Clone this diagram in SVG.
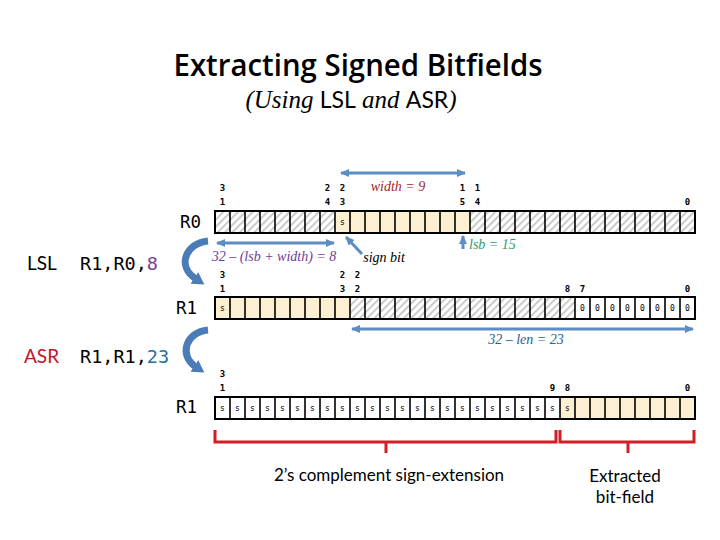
<svg xmlns="http://www.w3.org/2000/svg" width="720" height="540" viewBox="0 0 720 540">
<defs>
  <pattern id="hatch" patternUnits="userSpaceOnUse" width="5.2" height="5.2" patternTransform="rotate(45)">
    <rect width="5.2" height="5.2" fill="#ffffff"/>
    <line x1="1" y1="0" x2="1" y2="5.2" stroke="#c8c8c8" stroke-width="1.9"/>
  </pattern>
  <marker id="ah" markerUnits="userSpaceOnUse" markerWidth="10" markerHeight="10" refX="8" refY="4" orient="auto-start-reverse">
    <path d="M0,0 L9,4 L0,8 z" fill="#5b8ec4"/>
  </marker>
  <marker id="bigah" markerUnits="userSpaceOnUse" markerWidth="16" markerHeight="16" refX="2" refY="7" orient="auto">
    <path d="M0,0 L12,7 L0,14 z" fill="#4a7db8"/>
  </marker>
  <style>
    .cell{stroke:#000;stroke-width:2;fill:none}
    .div{stroke:#000;stroke-width:1.6}
    .cream{fill:#fdefd2}
    .white{fill:#ffffff}
    .bn{font-family:"DejaVu Sans Mono",monospace;font-weight:bold;font-size:9px;fill:#000;text-anchor:middle}
    .cv{font-family:"DejaVu Sans Mono",monospace;font-size:8px;fill:#000;text-anchor:middle}
    .reg{font-family:"DejaVu Sans Mono",monospace;font-size:17.5px;fill:#000}
    .ins{font-family:"DejaVu Sans Mono",monospace;font-size:18.5px;fill:#000}
    .sans{font-family:Lato,"Open Sans",sans-serif}
    .it{font-family:"Liberation Serif",serif;font-style:italic;font-size:14px;text-anchor:middle}
    .blue{stroke:#5b8ec4;stroke-width:3;fill:none}
    .curve{stroke:#4a7db8;stroke-width:7;fill:none;stroke-linecap:butt}
    .red{stroke:#d21f26;stroke-width:3;fill:none}
  </style>
</defs>
<rect width="720" height="540" fill="#ffffff"/>

<g id="title">
  <text x="358" y="76" font-family="'Open Sans',Lato,sans-serif" font-weight="600" font-size="30" text-anchor="middle" textLength="369" lengthAdjust="spacingAndGlyphs" fill="#000">Extracting Signed Bitfields</text>
  <text x="351" y="108" font-family="Liberation Serif,serif" font-style="italic" font-size="25" text-anchor="middle" fill="#000">(Using <tspan font-family="Lato,sans-serif" font-style="normal" font-size="23">LSL</tspan> and <tspan font-family="Lato,sans-serif" font-style="normal" font-size="23">ASR</tspan>)</text>
</g>

<g id="instructions">
  <text x="27" y="270" class="sans" font-size="19" fill="#000">LSL</text>
  <text x="80" y="270" class="ins">R1,R0,<tspan fill="#7a3b96">8</tspan></text>
  <text x="24" y="363" class="sans" font-size="19" fill="#c0142a">ASR</text>
  <text x="80" y="363" class="ins">R1,R1,<tspan fill="#1f6e9c">23</tspan></text>
</g>

<g id="R0">
  <text x="180" y="228" class="reg">R0</text>
  <rect x="215" y="211" width="120" height="22" fill="url(#hatch)"/>
  <rect x="335" y="211" width="135" height="22" class="cream"/>
  <rect x="470" y="211" width="225" height="22" fill="url(#hatch)"/>
  <path class="div" d="M230,211v22M245,211v22M260,211v22M275,211v22M290,211v22M305,211v22M320,211v22M335,211v22M350,211v22M365,211v22M380,211v22M395,211v22M410,211v22M425,211v22M440,211v22M455,211v22M470,211v22M485,211v22M500,211v22M515,211v22M530,211v22M545,211v22M560,211v22M575,211v22M590,211v22M605,211v22M620,211v22M635,211v22M650,211v22M665,211v22M680,211v22"/>
  <rect x="215" y="211" width="480" height="22" class="cell"/>
  <text x="342.5" y="225" class="cv">s</text>
  <text x="222.5" y="191" class="bn">3</text><text x="222.5" y="205" class="bn">1</text>
  <text x="327.5" y="191" class="bn">2</text><text x="327.5" y="205" class="bn">4</text>
  <text x="342.5" y="191" class="bn">2</text><text x="342.5" y="205" class="bn">3</text>
  <text x="462.5" y="191" class="bn">1</text><text x="462.5" y="205" class="bn">5</text>
  <text x="477.5" y="191" class="bn">1</text><text x="477.5" y="205" class="bn">4</text>
  <text x="687.5" y="205" class="bn">0</text>
</g>

<g id="R1a">
  <text x="176" y="314" class="reg">R1</text>
  <rect x="215" y="297" width="135" height="22" class="cream"/>
  <rect x="350" y="297" width="225" height="22" fill="url(#hatch)"/>
  <rect x="575" y="297" width="120" height="22" class="white"/>
  <path class="div" d="M230,297v22M245,297v22M260,297v22M275,297v22M290,297v22M305,297v22M320,297v22M335,297v22M350,297v22M365,297v22M380,297v22M395,297v22M410,297v22M425,297v22M440,297v22M455,297v22M470,297v22M485,297v22M500,297v22M515,297v22M530,297v22M545,297v22M560,297v22M575,297v22M590,297v22M605,297v22M620,297v22M635,297v22M650,297v22M665,297v22M680,297v22"/>
  <rect x="215" y="297" width="480" height="22" class="cell"/>
  <text x="222.5" y="311" class="cv">s</text>
  <g class="cv">
    <text x="582.5" y="311">0</text><text x="597.5" y="311">0</text><text x="612.5" y="311">0</text><text x="627.5" y="311">0</text>
    <text x="642.5" y="311">0</text><text x="657.5" y="311">0</text><text x="672.5" y="311">0</text><text x="687.5" y="311">0</text>
  </g>
  <text x="222.5" y="278" class="bn">3</text><text x="222.5" y="292" class="bn">1</text>
  <text x="342.5" y="278" class="bn">2</text><text x="342.5" y="292" class="bn">3</text>
  <text x="357.5" y="278" class="bn">2</text><text x="357.5" y="292" class="bn">2</text>
  <text x="567.5" y="292" class="bn">8</text>
  <text x="582.5" y="292" class="bn">7</text>
  <text x="687.5" y="292" class="bn">0</text>
</g>

<g id="R1b">
  <text x="176" y="413" class="reg">R1</text>
  <rect x="215" y="397" width="345" height="22" class="white"/>
  <rect x="560" y="397" width="135" height="22" class="cream"/>
  <path class="div" d="M230,397v22M245,397v22M260,397v22M275,397v22M290,397v22M305,397v22M320,397v22M335,397v22M350,397v22M365,397v22M380,397v22M395,397v22M410,397v22M425,397v22M440,397v22M455,397v22M470,397v22M485,397v22M500,397v22M515,397v22M530,397v22M545,397v22M560,397v22M575,397v22M590,397v22M605,397v22M620,397v22M635,397v22M650,397v22M665,397v22M680,397v22"/>
  <rect x="215" y="397" width="480" height="22" class="cell"/>
  <g class="cv">
    <text x="222.5" y="411">s</text><text x="237.5" y="411">s</text><text x="252.5" y="411">s</text><text x="267.5" y="411">s</text>
    <text x="282.5" y="411">s</text><text x="297.5" y="411">s</text><text x="312.5" y="411">s</text><text x="327.5" y="411">s</text>
    <text x="342.5" y="411">s</text><text x="357.5" y="411">s</text><text x="372.5" y="411">s</text><text x="387.5" y="411">s</text>
    <text x="402.5" y="411">s</text><text x="417.5" y="411">s</text><text x="432.5" y="411">s</text><text x="447.5" y="411">s</text>
    <text x="462.5" y="411">s</text><text x="477.5" y="411">s</text><text x="492.5" y="411">s</text><text x="507.5" y="411">s</text>
    <text x="522.5" y="411">s</text><text x="537.5" y="411">s</text><text x="552.5" y="411">s</text><text x="567.5" y="411">s</text>
  </g>
  <text x="222.5" y="377" class="bn">3</text><text x="222.5" y="391" class="bn">1</text>
  <text x="552.5" y="391" class="bn">9</text>
  <text x="567.5" y="391" class="bn">8</text>
  <text x="687.5" y="391" class="bn">0</text>
</g>

<g id="connectors">
  <line class="blue" x1="341" y1="173" x2="465" y2="173" marker-start="url(#ah)" marker-end="url(#ah)"/>
  <line class="blue" x1="217" y1="243" x2="334" y2="243" marker-start="url(#ah)" marker-end="url(#ah)"/>
  <line class="blue" x1="352" y1="329" x2="693" y2="329" marker-start="url(#ah)" marker-end="url(#ah)"/>
  <line class="blue" x1="362" y1="254" x2="346" y2="237" marker-end="url(#ah)"/>
  <line class="blue" x1="463" y1="249" x2="463" y2="236" marker-end="url(#ah)"/>
  <path class="curve" d="M208,241 C186,243 176,266 196,279" marker-end="url(#bigah)"/>
  <path class="curve" d="M208,330 C186,332 178,355 196,367" marker-end="url(#bigah)"/>
  <path class="red" d="M215,430 V442 H556 V430 M386,442 V453"/>
  <path class="red" d="M560,430 V442 H694 V430 M628,442 V453"/>
</g>

<g id="labels">
  <text x="398" y="191" class="it" fill="#a3262b">width = 9</text>
  <text x="274" y="261" class="it" fill="#6e3d96">32 – (lsb + width) = 8</text>
  <text x="384" y="262" class="it" fill="#000">sign bit</text>
  <text x="469" y="249" class="it" style="text-anchor:start" fill="#2f9a6b">lsb = 15</text>
  <text x="526" y="344" class="it" fill="#23628a">32 – len = 23</text>
  <text x="389" y="481" class="sans" font-size="17" text-anchor="middle" fill="#000">2’s complement sign-extension</text>
  <text x="625" y="482" class="sans" font-size="17" text-anchor="middle" fill="#000">Extracted</text>
  <text x="625" y="503" class="sans" font-size="17" text-anchor="middle" fill="#000">bit-field</text>
</g>
</svg>
